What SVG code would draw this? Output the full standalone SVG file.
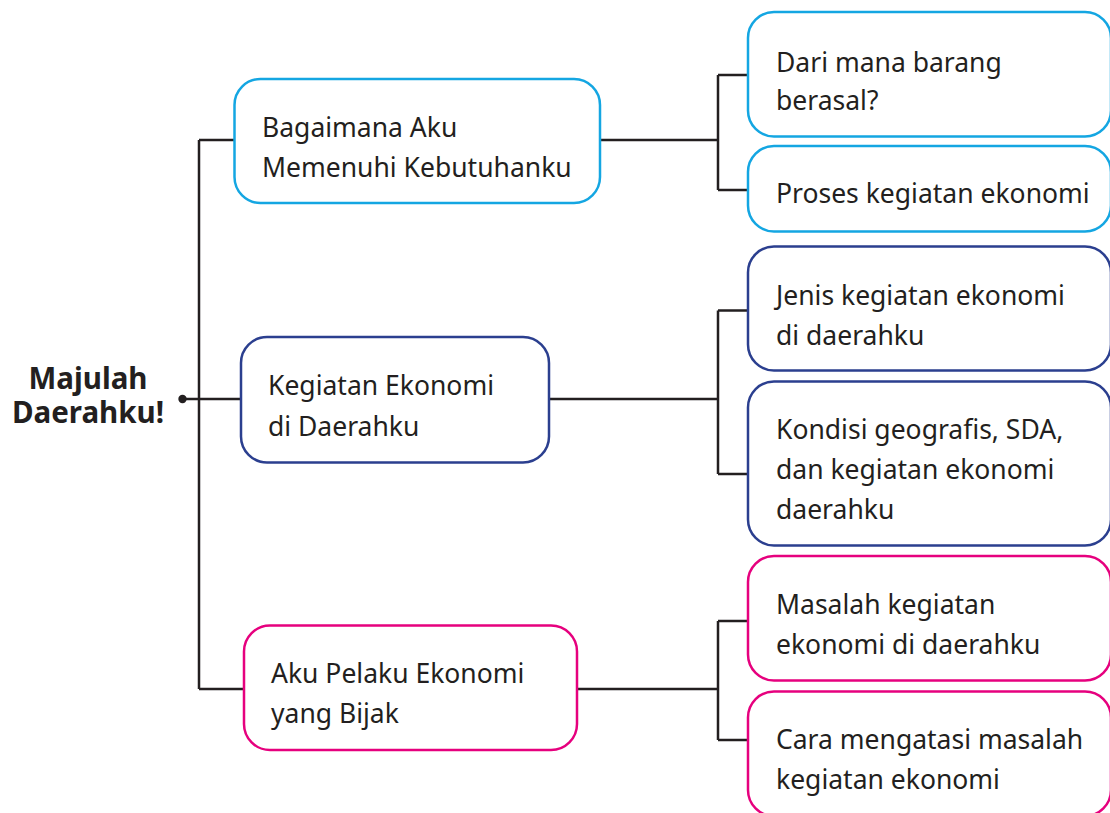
<svg xmlns="http://www.w3.org/2000/svg" width="1110" height="813" viewBox="0 0 1110 813">
<style>
.box{fill:#fff;stroke-width:2.5}
.c1{stroke:#14a6e2}
.c2{stroke:#2b3f8f}
.c3{stroke:#e6007e}
.t{font-family:"Noto Sans","Open Sans","Liberation Sans",sans-serif;font-size:26.5px;fill:#231f20}
.title{font-family:"Noto Sans","Open Sans","Liberation Sans",sans-serif;font-size:29.5px;font-weight:bold;fill:#231f20;text-anchor:middle}
.ln{fill:none;stroke:#231f20;stroke-width:2.5}
</style>
<rect width="1110" height="813" fill="#fff"/>
<g id="connectors">
<path class="ln" d="M183 399H241M199 140V689M199 140H234.5M199 689H244"/>
<path class="ln" d="M600 140H718M718 75V190M718 75H748M718 190H748"/>
<path class="ln" d="M549 399H718M718 310.5V474M718 310.5H748M718 474H748"/>
<path class="ln" d="M577 689H718M718 621V740M718 621H748M718 740H748"/>
<circle cx="182.5" cy="399" r="4.2" fill="#231f20"/>
</g>
<g id="root">
<text class="title" x="88" y="389">Majulah<tspan x="88" dy="34">Daerahku!</tspan></text>
</g>
<g id="n1">
<rect class="box c1" x="234.5" y="79" width="365.5" height="124" rx="26"/>
<text class="t" x="262" y="137">Bagaimana Aku</text>
<text class="t" x="262" y="177">Memenuhi Kebutuhanku</text>
</g>
<g id="n2">
<rect class="box c2" x="241" y="337" width="308" height="125.5" rx="26"/>
<text class="t" x="268" y="395">Kegiatan Ekonomi</text>
<text class="t" x="268" y="436">di Daerahku</text>
</g>
<g id="n3">
<rect class="box c3" x="244" y="625.5" width="333" height="124.5" rx="26"/>
<text class="t" x="271" y="683">Aku Pelaku Ekonomi</text>
<text class="t" x="271" y="723">yang Bijak</text>
</g>
<g id="n1a">
<rect class="box c1" x="748" y="12" width="363" height="124.5" rx="26"/>
<text class="t" x="776" y="72">Dari mana barang</text>
<text class="t" x="776" y="110">berasal?</text>
</g>
<g id="n1b">
<rect class="box c1" x="748" y="146" width="363" height="85.5" rx="26"/>
<text class="t" x="776" y="203">Proses kegiatan ekonomi</text>
</g>
<g id="n2a">
<rect class="box c2" x="748" y="246.5" width="363" height="124" rx="26"/>
<text class="t" x="776" y="305">Jenis kegiatan ekonomi</text>
<text class="t" x="776" y="344.5">di daerahku</text>
</g>
<g id="n2b">
<rect class="box c2" x="748" y="381.5" width="363" height="164" rx="26"/>
<text class="t" x="776" y="439">Kondisi geografis, SDA,</text>
<text class="t" x="776" y="479">dan kegiatan ekonomi</text>
<text class="t" x="776" y="518.5">daerahku</text>
</g>
<g id="n3a">
<rect class="box c3" x="748" y="556" width="363" height="124.5" rx="26"/>
<text class="t" x="776" y="613.5">Masalah kegiatan</text>
<text class="t" x="776" y="653.5">ekonomi di daerahku</text>
</g>
<g id="n3b">
<rect class="box c3" x="748" y="691.5" width="363" height="124.5" rx="26"/>
<text class="t" x="776" y="748.5">Cara mengatasi masalah</text>
<text class="t" x="776" y="788.5">kegiatan ekonomi</text>
</g>
</svg>
